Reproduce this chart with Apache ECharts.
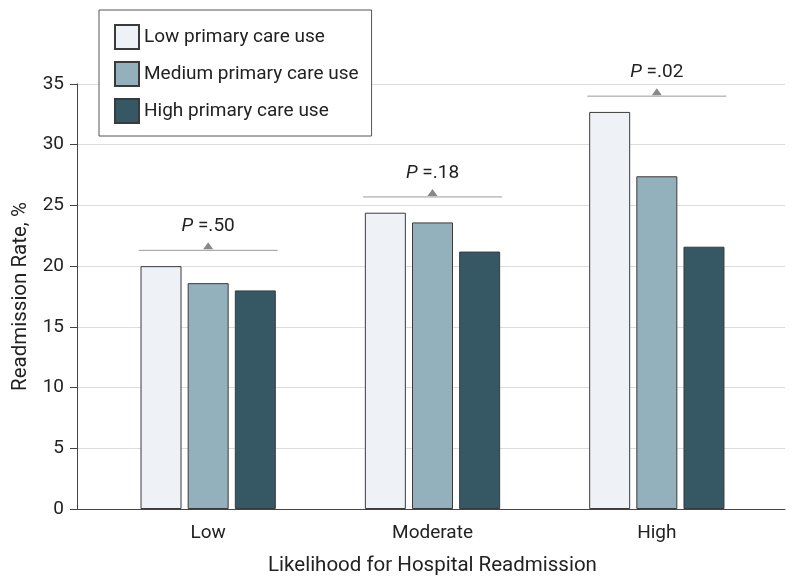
<!DOCTYPE html>
<html>
<head>
<meta charset="utf-8">
<script src="https://cdn.jsdelivr.net/npm/echarts@6/dist/echarts.min.js"></script>
<style>html,body{margin:0;padding:0;background:#fff;}#chart{width:800px;height:586px;}</style>
</head>
<body>
<div id="chart"></div>
<script>
const categories = ['Low', 'Moderate', 'High'];
const seriesNames = ['Low primary care use', 'Medium primary care use', 'High primary care use'];
const lowUse = [20.0, 24.4, 32.7];
const mediumUse = [18.6, 23.6, 27.4];
const highUse = [18.0, 21.2, 21.6];
const pLabels = ['.50', '.18', '.02'];
const pLevels = [21.3, 25.7, 34.0];
const yTicks = [0, 5, 10, 15, 20, 25, 30, 35];

const FONT = "Roboto, 'Noto Sans', sans-serif";
const colors = ['#eef2f6', '#93b1bd', '#365864'];
const BAR_W = 41;

const chart = echarts.init(document.getElementById('chart'));

function barSeries(name, data, color) {
  return {
    name: name, type: 'bar', xAxisIndex: 0, yAxisIndex: 0,
    data: data, barWidth: BAR_W, barGap: '15%',
    itemStyle: { color: color, borderColor: '#3a3a3a', borderWidth: 1 },
    z: 3
  };
}

const option = {
  animation: false,
  backgroundColor: '#fff',
  textStyle: { fontFamily: FONT },
  legend: {
    orient: 'vertical', left: 99, top: 10,
    backgroundColor: '#fff', borderColor: '#555', borderWidth: 1,
    padding: [14, 13, 12, 15],
    itemWidth: 24, itemHeight: 24, itemGap: 11,
    icon: 'rect',
    textStyle: { fontSize: 19, color: '#222', fontFamily: FONT },
    data: seriesNames,
    z: 10
  },
  grid: [
    { left: 96, right: 31, top: 84, bottom: 77 },
    { left: 77, right: 15, top: 84, bottom: 77 }
  ],
  xAxis: [
    {
      type: 'category', gridIndex: 0, data: categories,
      axisLine: { show: false }, axisTick: { show: false },
      axisLabel: { fontSize: 19, color: '#222', margin: 15, fontFamily: FONT },
      name: 'Likelihood for Hospital Readmission', nameLocation: 'middle', nameGap: 46,
      nameTextStyle: { fontSize: 20.5, color: '#222', fontFamily: FONT }
    },
    {
      type: 'value', gridIndex: 1, min: 0, max: 1,
      axisLine: { show: true, lineStyle: { color: '#444', width: 1 } },
      axisTick: { show: false }, axisLabel: { show: false }, splitLine: { show: false }
    }
  ],
  yAxis: [
    { type: 'value', gridIndex: 0, min: 0, max: 35, show: false },
    {
      type: 'value', gridIndex: 1, min: 0, max: 35, interval: 5,
      axisLine: { show: true, lineStyle: { color: '#444', width: 1 } },
      axisTick: { show: true, length: 7, lineStyle: { color: '#444' } },
      axisLabel: { fontSize: 19, color: '#222', margin: 13, fontFamily: FONT,
        formatter: function (v) { return yTicks.indexOf(v) >= 0 ? String(v) : ''; } },
      splitLine: { show: true, lineStyle: { color: '#dcdcdc', width: 1 } },
      name: 'Readmission Rate, %', nameLocation: 'middle', nameGap: 44, nameRotate: 90,
      nameTextStyle: { fontSize: 20.5, color: '#222', fontFamily: FONT }
    }
  ],
  series: [
    barSeries(seriesNames[0], lowUse, colors[0]),
    barSeries(seriesNames[1], mediumUse, colors[1]),
    barSeries(seriesNames[2], highUse, colors[2]),
    {
      type: 'custom', xAxisIndex: 0, yAxisIndex: 0, z: 4,
      data: pLevels.map(function (v, i) { return [i, v, pLabels[i]]; }),
      renderItem: function (params, api) {
        const c = api.coord([api.value(0), api.value(1)]);
        const half = BAR_W * 1.5 + 8;
        const label = pLabels[params.dataIndex];
        return {
          type: 'group',
          children: [
            { type: 'line', shape: { x1: c[0] - half, y1: c[1], x2: c[0] + half, y2: c[1] },
              style: { stroke: '#9a9a9a', lineWidth: 1 } },
            { type: 'polygon', shape: { points: [[c[0] - 5, c[1] - 1], [c[0] + 5, c[1] - 1], [c[0], c[1] - 8]] },
              style: { fill: '#888' } },
            { type: 'text', x: c[0], y: c[1] - 24,
              style: { text: '{i|P} =' + label, align: 'center', verticalAlign: 'middle',
                fontSize: 19, fill: '#222', fontFamily: FONT,
                rich: { i: { fontStyle: 'italic', fontSize: 19, fontFamily: FONT, fill: '#222' } } } }
          ]
        };
      }
    }
  ]
};
chart.setOption(option);
</script>
</body>
</html>
